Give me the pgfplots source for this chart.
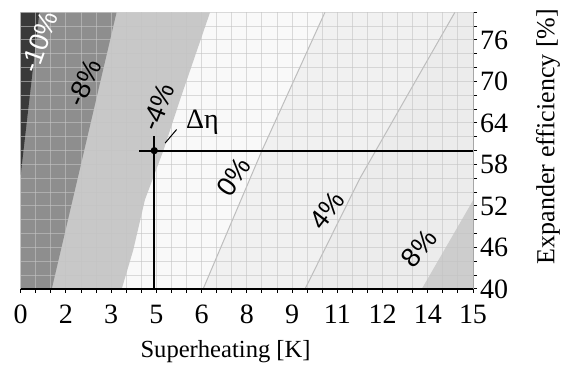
\documentclass[border=0pt]{standalone}
\usepackage{fontspec}
\setmainfont{Liberation Serif}
\newfontfamily\sansf{Liberation Sans}
\usepackage{pgfplots}
\pgfplotsset{compat=1.18}
\definecolor{cdark}{HTML}{3A3A3A}
\definecolor{cmid}{HTML}{8E8E8E}
\definecolor{clight}{HTML}{C8C8C8}
\definecolor{cwhite}{HTML}{F9F9F9}
\definecolor{cfour}{HTML}{F1F1F1}
\definecolor{crest}{HTML}{ECECEC}
\definecolor{ceight}{HTML}{CDCDCD}
\definecolor{cgrid}{HTML}{C4C4C4}
\definecolor{cline}{HTML}{BDBDBD}
\newcommand{\lblfont}{\sansf\fontsize{13.5}{15}\selectfont}
\pgfplotsset{myframe/.style={width=226.15pt, height=138.35pt, scale only axis,
  xmin=0, xmax=15, ymin=40, ymax=80}}
\begin{document}
\begin{tikzpicture}
\begin{axis}[
  myframe,
  axis x line*=bottom, axis y line*=right,
  axis on top,
  xtick={0,0.5,...,15}, ytick={40,42,...,80},
  xticklabels={0,,,2,,,3,,,5,,,6,,,8,,,9,,,11,,,12,,,14,,,15},
  yticklabels={40,,,46,,,52,,,58,,,64,,,70,,,76,,},
  grid=major, grid style={cgrid, line width=0.5pt, opacity=0.6},
  tick align=outside, major tick length=2pt,
  tick style={black, line width=0.5pt},
  x axis line style={black, line width=0.6pt, -},
  y axis line style={black!35, line width=0.5pt, -},
  /pgf/number format/assume math mode=true,
  tick label style={font=\fontsize{14}{16}\selectfont},
  xticklabel style={yshift=-2.5pt},
  yticklabel style={xshift=-2pt},
  xlabel={Superheating [K]},
  ylabel={Expander efficiency [\%]},
  every axis x label/.style={at={(axis description cs:0.453,-0.225)}, anchor=center, font=\fontsize{12.3}{14}\selectfont},
  every axis y label/.style={at={(axis description cs:1.166,0.551)}, anchor=center, rotate=90, font=\fontsize{13}{15}\selectfont},
]
% regions
\addplot[fill=cwhite, draw=none] coordinates {(0,40) (15,40) (15,80) (0,80)};
\addplot[fill=cfour, draw=none] coordinates {(6.05,40) (8.0,60) (10.09,80) (15,80) (15,40)};
\addplot[fill=crest, draw=none] coordinates {(9.43,40) (11.25,56) (14.4,80) (15,80) (15,40)};
\addplot[fill=ceight, draw=none] coordinates {(13.3,40) (15,52.8) (15,40)};
\addplot[fill=clight, draw=none] coordinates {(0,40) (3.35,40) (3.73,45.6) (4.12,52.9) (4.73,60) (5.28,67.3) (6.28,80) (0,80)};
\addplot[fill=cmid, draw=none] coordinates {(0,40) (1.03,40) (3.18,80) (0,80)};
\addplot[fill=cdark, draw=none] coordinates {(0,56.5) (0.62,80) (0,80)};
% contour lines
\addplot[cline, line width=0.5pt] coordinates {(6.05,40) (8.0,60) (10.09,80)};
\addplot[cline, line width=0.5pt] coordinates {(9.43,40) (11.25,56) (14.4,80)};
\end{axis}
\begin{axis}[myframe, hide axis]
% crosshair
\addplot[black, line width=1pt] coordinates {(3.93,60) (15,60)};
\addplot[black, line width=1pt] coordinates {(4.43,62.1) (4.43,40)};
\addplot[black, line width=0.5pt] coordinates {(4.79,61.1) (5.17,63.05)};
\addplot[black, only marks, mark=*, mark size=1.6pt] coordinates {(4.43,60)};
% labels
\node[font=\fontsize{14}{16}\selectfont] at (axis cs:6.03,64.06) {Δη};
\node[font=\lblfont, white, rotate=70] at (axis cs:0.61,75.7) {-10\%};
\node[font=\lblfont, rotate=65] at (axis cs:2.10,69.8) {-8\%};
\node[font=\lblfont, rotate=68] at (axis cs:4.56,66.3) {-4\%};
\node[font=\lblfont, rotate=55] at (axis cs:7.07,56.2) {0\%};
\node[font=\lblfont, rotate=52] at (axis cs:10.17,51.4) {4\%};
\node[font=\lblfont, rotate=50] at (axis cs:13.21,45.9) {8\%};
\end{axis}
\pgfresetboundingbox
\path ([xshift=-10.35pt,yshift=-39pt]current axis.south west) rectangle ([xshift=45pt,yshift=6.15pt]current axis.north east);
\end{tikzpicture}
\end{document}
